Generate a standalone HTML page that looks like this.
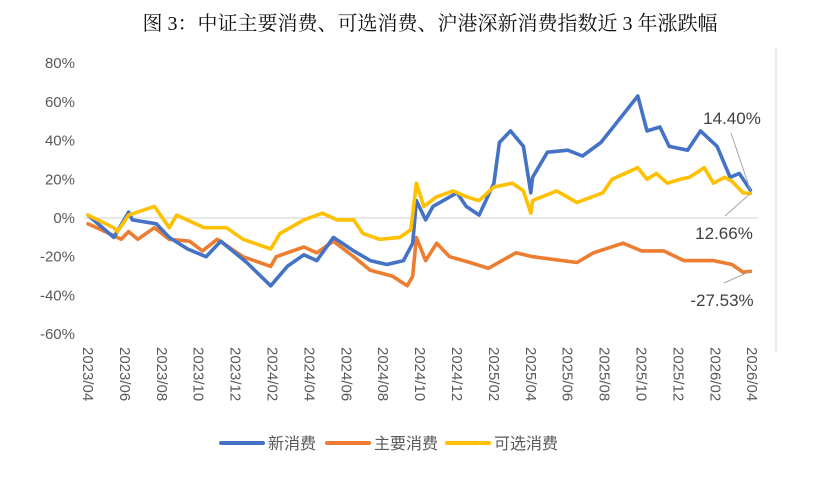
<!DOCTYPE html>
<html><head><meta charset="utf-8"><style>
body{margin:0;background:#fff;}
svg{display:block;font-family:"Liberation Sans","Noto Sans CJK SC",sans-serif;}
</style></head><body>
<svg width="813" height="500" viewBox="0 0 813 500" id="chart">
<text x="430" y="30" text-anchor="middle" font-size="20" fill="#111" font-family="Liberation Serif, Noto Serif CJK SC, serif">图 3：中证主要消费、可选消费、沪港深新消费指数近 3 年涨跌幅</text>
<line x1="776" y1="48" x2="776" y2="352" stroke="#d9d9d9" stroke-width="1"/>
<g id="yaxis"></g>
<g id="xaxis"></g>
<g id="series"></g>
<g id="ann"></g>
<g>
<g><line x1="221" y1="443" x2="263" y2="443" stroke="#4472c4" stroke-width="4" stroke-linecap="round"/><text x="268" y="449" font-size="16" fill="#595959">新消费</text></g>
<g><line x1="327" y1="443" x2="369" y2="443" stroke="#ed7d31" stroke-width="4" stroke-linecap="round"/><text x="374" y="449" font-size="16" fill="#595959">主要消费</text></g>
<g><line x1="447" y1="443" x2="489" y2="443" stroke="#ffc000" stroke-width="4" stroke-linecap="round"/><text x="494" y="449" font-size="16" fill="#595959">可选消费</text></g>
</g>
</svg>
<script>
const yTicks=[80,60,40,20,0,-20,-40,-60];
const xLabels=["2023/04","2023/06","2023/08","2023/10","2023/12","2024/02","2024/04","2024/06","2024/08","2024/10","2024/12","2025/02","2025/04","2025/06","2025/08","2025/10","2025/12","2026/02","2026/04"];
const newT=[0,1.4,2.2,2.4,3.7,4.4,5.4,6.4,7.2,8.6,9.9,10.8,11.7,12.4,13.3,14.4,15.3,16.2,17.1,17.6,17.8,18.3,18.7,20,20.5,21.2,22,22.3,22.9,23.6,24,24.1,24.9,26,26.8,27.8,28.8,29.8,30.3,31,31.5,32.5,33.2,34.1,34.8,35.3,35.9];
const newV=[1.5,-10,3,-1,-3,-10,-16,-20,-12,-23,-35,-25,-19,-22,-10,-17,-22,-24,-22,-13,9,-1,6,13,6,1.5,18,39,45,37,13,21,34,35,32,39,51,63,45,47,37,35,45,37,21,23,14.4];
const discT=[0,1.4,1.6,2.2,3.6,4.4,4.8,6.3,7.5,8.4,9.9,10.4,11.7,12.7,13.5,14.4,14.9,15.8,16.9,17.5,17.8,18.2,18.9,19.8,20.5,21.2,22,23,23.6,24,24.1,25.4,26.5,27.9,28.4,29.8,30.3,30.8,31.4,32.1,32.6,33.4,33.9,34.5,34.9,35.5,35.9];
const discV=[1.5,-5,-7,1.5,6,-5,1.5,-5,-5,-11,-16,-8,-1,2.5,-1,-1,-8,-11,-10,-6,18,6,11,14,11,9,16,18,14,2.5,9,14,8,13,20,26,20,23,18,20,21,26,18,21,19,13,12.66];
const stapT=[0,0.7,1.8,2.2,2.7,3.6,4.4,5.5,6.2,7,8.4,9.9,10.2,11.7,12.4,13.3,14.4,15.3,16.5,17.3,17.6,17.8,18.3,18.9,19.6,20.7,21.7,23.2,24.1,26.5,27.4,29,30,31.2,32.3,33.9,34.9,35.5,35.9];
const stapV=[-3,-6,-11,-7,-11,-5,-11,-12,-17,-11,-20,-25,-20,-15,-18,-12,-20,-27,-30,-35,-30,-10,-22,-13,-20,-23,-26,-18,-20,-23,-18,-13,-17,-17,-22,-22,-24,-28,-27.53];
const NS="http://www.w3.org/2000/svg";
const X0=88,XSTEP=18.45,Y0=218,YPX=1.936;
function xs(t){return X0+t*XSTEP;}
function ys(v){return Y0-v*YPX;}
function mk(tag,attrs,parent){const e=document.createElementNS(NS,tag);for(const k in attrs)e.setAttribute(k,attrs[k]);parent.appendChild(e);return e;}
const ya=document.getElementById('yaxis');
yTicks.forEach(v=>{
  const t=mk('text',{x:75,y:ys(v)+5,'text-anchor':'end','font-size':15,fill:'#595959'},ya);
  t.textContent=v+'%';
  
  
});
const zl=mk('line',{x1:84,x2:758,y1:ys(0),y2:ys(0),stroke:'#d9d9d9','stroke-width':1.2},ya);


const xa=document.getElementById('xaxis');
xLabels.forEach((l,i)=>{
  const x=xs(i*2);
  const t=mk('text',{x:0,y:0,'font-size':15,fill:'#595959',transform:`translate(${x-5},347) rotate(90)`},xa);
  t.textContent=l;
  
  
});
const sg=document.getElementById('series');
function line(T,V,c,name){
  const d=T.map((t,i)=>(i?'L':'M')+xs(t).toFixed(1)+','+ys(V[i]).toFixed(1)).join('');
  const p=mk('path',{d:d,fill:'none',stroke:c,'stroke-width':3.6,'stroke-linejoin':'round','stroke-linecap':'round'},sg);
  
  
}
line(stapT,stapV,'#ed7d31','line-staples');
line(newT,newV,'#4472c4','line-new-consumption');
line(discT,discV,'#ffc000','line-discretionary');
const an=document.getElementById('ann');
function annot(T,V,tx,ty,lx,ly,name){
  const n=T.length-1;
  mk('line',{x1:lx,y1:ly,x2:xs(T[n]),y2:ys(V[n]),stroke:'#a6a6a6','stroke-width':1},an);
  const t=mk('text',{x:tx,y:ty,'text-anchor':'middle','font-size':17,fill:'#404040'},an);
  t.textContent=V[n].toFixed(2)+'%';
  
  
}
annot(newT,newV,732,124,731,133,'label-new-consumption-end');
annot(discT,discV,724,239,725,216,'label-discretionary-end');
annot(stapT,stapV,722,306,724,283,'label-staples-end');
</script>
</body></html>
